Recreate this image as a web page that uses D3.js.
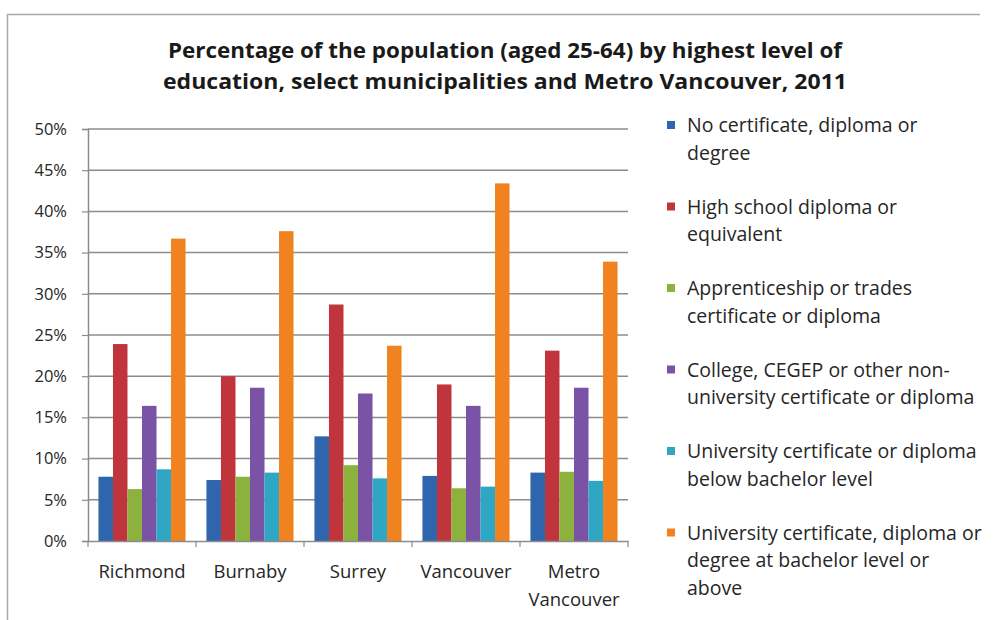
<!DOCTYPE html>
<html>
<head>
<meta charset="utf-8">
<script src="https://cdn.jsdelivr.net/npm/d3@7"></script>
<style>
  html, body { margin: 0; padding: 0; background: #fff; }
  svg { display: block; font-family: "Open Sans", "DejaVu Sans", sans-serif; }
</style>
</head>
<body>
<svg id="chart" width="997" height="620"></svg>
<script>
// Municipalities along the x axis
const categories = ["Richmond", "Burnaby", "Surrey", "Vancouver", "Metro Vancouver"];
const categoryLines = [["Richmond"], ["Burnaby"], ["Surrey"], ["Vancouver"], ["Metro", "Vancouver"]];

// Education levels (series) and their legend line breaks
const seriesNames = [
  "No certificate, diploma or degree",
  "High school diploma or equivalent",
  "Apprenticeship or trades certificate or diploma",
  "College, CEGEP or other non-university certificate or diploma",
  "University certificate or diploma below bachelor level",
  "University certificate, diploma or degree at bachelor level or above"
];
const legendLines = [
  ["No certificate, diploma or", "degree"],
  ["High school diploma or", "equivalent"],
  ["Apprenticeship or trades", "certificate or diploma"],
  ["College, CEGEP or other non-", "university certificate or diploma"],
  ["University certificate or diploma", "below bachelor level"],
  ["University certificate, diploma or", "degree at bachelor level or", "above"]
];

// Percent values, one array per series, in category order
const noCertificate   = [7.8, 7.4, 12.7, 7.9, 8.3];
const highSchool      = [23.9, 20.0, 28.7, 19.0, 23.1];
const apprenticeship  = [6.3, 7.8, 9.2, 6.4, 8.4];
const college         = [16.4, 18.6, 17.9, 16.4, 18.6];
const belowBachelor   = [8.7, 8.3, 7.6, 6.6, 7.3];
const bachelorOrAbove = [36.7, 37.6, 23.7, 43.4, 33.9];
const seriesValues = [noCertificate, highSchool, apprenticeship, college, belowBachelor, bachelorOrAbove];

// Y axis ticks
const yTicks = [0, 5, 10, 15, 20, 25, 30, 35, 40, 45, 50];

const colors = ["#2f65ac", "#c0343c", "#8bb23d", "#7a52a6", "#2fa6c4", "#f0831f"];
const textColor = "#262626";

const svg = d3.select("#chart");

// Chart frame: top and left edges
svg.append("path")
  .attr("d", "M7.5,620 V14.5 H980")
  .attr("fill", "none")
  .attr("stroke", "#a8a8a8").attr("stroke-width", 1.5);

// Title
const titleLines = [
  "Percentage of the population (aged 25-64) by highest level of",
  "education, select municipalities and Metro Vancouver, 2011"
];
svg.append("g").selectAll("text")
  .data(titleLines)
  .join("text")
  .attr("x", 505)
  .attr("y", (d, i) => 58 + i * 31)
  .attr("text-anchor", "middle")
  .attr("font-size", 20.5)
  .attr("font-weight", "bold")
  .attr("fill", "#1a1a1a")
  .attr("textLength", (d, i) => i === 0 ? 674 : 684)
  .attr("lengthAdjust", "spacingAndGlyphs")
  .text(d => d);

// Plot area
const plot = { left: 88, right: 628, top: 129, bottom: 541 };

const y = d3.scaleLinear().domain([0, 50]).range([plot.bottom, plot.top]);
const x0 = d3.scaleBand().domain(categories).range([plot.left, plot.right]).padding(0);
const x1 = d3.scaleBand().domain(d3.range(seriesNames.length))
  .range([0, x0.bandwidth()]).paddingInner(0).paddingOuter(0.72);

// Gridlines
svg.append("g").selectAll("line")
  .data(yTicks.filter(t => t > 0))
  .join("line")
  .attr("x1", plot.left).attr("x2", plot.right)
  .attr("y1", d => y(d)).attr("y2", d => y(d))
  .attr("stroke", "#8c8c8c").attr("stroke-width", 1.5);

// Y axis
const yAxis = svg.append("g")
  .attr("transform", `translate(${plot.left},0)`)
  .call(d3.axisLeft(y).tickValues(yTicks).tickSize(6).tickPadding(15).tickFormat(d => d + "%"));
yAxis.select(".domain").attr("stroke", "#8c8c8c").attr("stroke-width", 1.5);
yAxis.selectAll(".tick line").attr("stroke", "#8c8c8c").attr("stroke-width", 1.2);
yAxis.selectAll(".tick text")
  .attr("font-size", 16.5).attr("fill", textColor)
  .attr("font-family", "'Open Sans', sans-serif");

// Bars
const groups = svg.append("g").selectAll("g")
  .data(categories)
  .join("g")
  .attr("transform", d => `translate(${x0(d)},0)`);

groups.selectAll("rect")
  .data((c, ci) => seriesValues.map((vals, si) => ({ si, v: vals[ci] })))
  .join("rect")
  .attr("x", d => x1(d.si))
  .attr("width", x1.bandwidth())
  .attr("y", d => y(d.v))
  .attr("height", d => y(0) - y(d.v))
  .attr("fill", d => colors[d.si]);

// X axis
const xAxis = svg.append("g")
  .attr("transform", `translate(0,${plot.bottom})`)
  .call(d3.axisBottom(x0).tickSize(0).tickFormat(""));
xAxis.select(".domain").attr("stroke", "#8c8c8c").attr("stroke-width", 1.5);
// Tick marks at category boundaries
svg.append("g").selectAll("line")
  .data(categories.map(c => x0(c)).concat([plot.right]))
  .join("line")
  .attr("x1", d => d).attr("x2", d => d)
  .attr("y1", plot.bottom).attr("y2", plot.bottom + 6)
  .attr("stroke", "#8c8c8c").attr("stroke-width", 1.2);

// Category labels
const catLabels = svg.append("g").selectAll("text")
  .data(categories)
  .join("text")
  .attr("text-anchor", "middle")
  .attr("font-size", 18.5)
  .attr("fill", textColor);
catLabels.each(function(c, i) {
  const t = d3.select(this);
  categoryLines[i].forEach((line, li) => {
    t.append("tspan")
      .attr("x", x0(c) + x0.bandwidth() / 2)
      .attr("y", 578 + li * 28)
      .text(line);
  });
});

// Legend
const legend = svg.append("g").selectAll("g")
  .data(seriesNames)
  .join("g")
  .attr("transform", (d, i) => `translate(667,${125 + i * 81.5})`);
legend.append("rect")
  .attr("x", 0).attr("y", -4)
  .attr("width", 8).attr("height", 8)
  .attr("fill", (d, i) => colors[i]);
legend.append("text")
  .attr("font-size", 19.5)
  .attr("fill", textColor)
  .each(function(d, i) {
    const t = d3.select(this);
    legendLines[i].forEach((line, li) => {
      t.append("tspan")
        .attr("x", 20)
        .attr("y", 7 + li * 27.5)
        .text(line);
    });
  });
</script>
</body>
</html>
